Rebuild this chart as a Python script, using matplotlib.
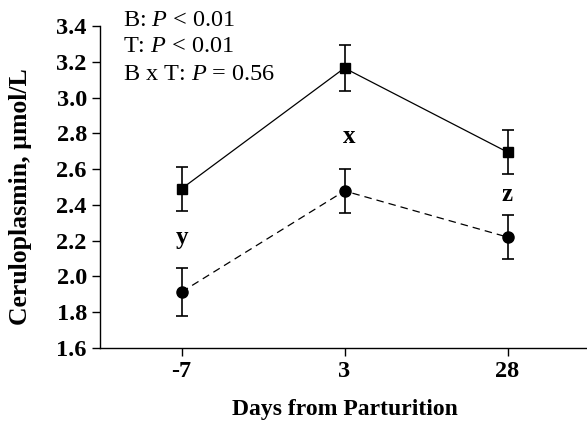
import numpy as np
import matplotlib
matplotlib.use('Agg')
import matplotlib.pyplot as plt

plt.rcParams['font.family'] = ['Liberation Serif', 'DejaVu Serif']
plt.rcParams['mathtext.fontset'] = 'custom'
plt.rcParams['mathtext.rm'] = 'Liberation Serif'
plt.rcParams['mathtext.it'] = 'Liberation Serif:italic'

days = ['-7', '3', '28']
square_mean = [2.49, 3.165, 2.695]
square_se = [0.122, 0.128, 0.124]
circle_mean = [1.913, 2.478, 2.22]
circle_se = [0.132, 0.124, 0.123]
letters = ['y', 'x', 'z']
letter_y = [2.215, 2.785, 2.46]
stats = ['B: $P$ < 0.01', 'T: $P$ < 0.01', 'B x T: $P$ = 0.56']

fig = plt.figure(figsize=(5.87, 4.21), dpi=100)
ax = fig.add_axes([100 / 587, 1 - 348 / 421, 489 / 587, 322 / 421])

x = np.arange(len(days))
ax.errorbar(x, square_mean, yerr=square_se, color='k', lw=0.9, marker='s',
            ms=7.5, capsize=4, elinewidth=1.2, capthick=1.2)
ax.errorbar(x, circle_mean, yerr=circle_se, color='k', lw=0.9, ls=(0, (6, 4)),
            marker='o', ms=8, capsize=4, elinewidth=1.2, capthick=1.2)

for i, (lab, ly) in enumerate(zip(letters, letter_y)):
    ax.text(x[i] + (0.03 if lab == 'x' else 0), ly, lab, ha='center', va='center',
            fontsize=18, fontweight='bold')

for i, s in enumerate(stats):
    fig.text(123 / 587, 1 - (20 + 27 * i) / 421, s, ha='left', va='center', fontsize=17.5)

ax.set_xlim(-0.5, 2.5)
ax.set_ylim(1.6, 3.4)
ax.set_yticks(np.arange(1.6, 3.41, 0.2))
ax.set_yticklabels(['%.1f' % v for v in np.arange(1.6, 3.41, 0.2)])
ax.set_xticks(x)
ax.set_xticklabels(days)
ax.tick_params(direction='out', length=6, width=1, labelsize=17.5)
for lab in ax.get_xticklabels() + ax.get_yticklabels():
    lab.set_fontweight('bold')

ax.spines['top'].set_visible(False)
ax.spines['right'].set_visible(False)
ax.spines['left'].set_linewidth(1)
ax.spines['bottom'].set_linewidth(1)

ax.set_xlabel('Days from Parturition', fontsize=17, fontweight='bold', labelpad=12)
ax.set_ylabel('Ceruloplasmin, µmol/L', fontsize=18.5, fontweight='bold')
ax.yaxis.set_label_coords(-0.139, 0.469)

fig.savefig('out.png', dpi=100)
